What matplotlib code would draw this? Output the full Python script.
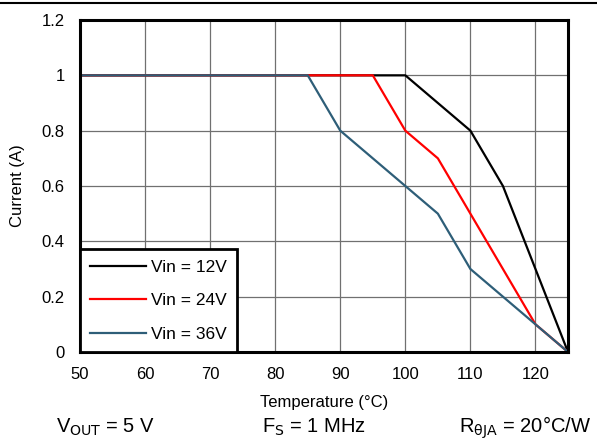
import matplotlib.pyplot as plt
import matplotlib.lines as mlines

plt.rcParams['font.family'] = ['Liberation Sans', 'DejaVu Sans']

# Derating curves
temp_12 = [50, 100, 110, 115, 125]
cur_12 = [1.0, 1.0, 0.8, 0.6, 0.0]

temp_24 = [50, 95, 100, 105, 120, 125]
cur_24 = [1.0, 1.0, 0.8, 0.7, 0.1, 0.0]

temp_36 = [50, 85, 90, 100, 105, 110, 120, 125]
cur_36 = [1.0, 1.0, 0.8, 0.6, 0.5, 0.3, 0.1, 0.0]

x_ticks = [50, 60, 70, 80, 90, 100, 110, 120]
y_ticks = [0, 0.2, 0.4, 0.6, 0.8, 1.0, 1.2]
y_labels = ['0', '0.2', '0.4', '0.6', '0.8', '1', '1.2']

W, H = 597, 444
fig = plt.figure(figsize=(W / 100, H / 100), dpi=100)
ax = fig.add_axes([80 / W, 1 - 352 / H, (568 - 80) / W, (352 - 20) / H])

ax.plot(temp_12, cur_12, color='black', lw=1.6, label='Vin = 12V')
ax.plot(temp_24, cur_24, color='#ff0000', lw=1.6, label='Vin = 24V')
ax.plot(temp_36, cur_36, color='#2e5e78', lw=1.6, label='Vin = 36V')

ax.set_xlim(50, 125)
ax.set_ylim(0, 1.2)
ax.set_xticks(x_ticks)
ax.set_yticks(y_ticks)
ax.set_yticklabels(y_labels)
ax.tick_params(length=0, labelsize=12, pad=11)
ax.grid(True, color='#707070', lw=0.9)
ax.set_axisbelow(True)
for s in ax.spines.values():
    s.set_linewidth(2.2)
    s.set_color('black')

ax.set_xlabel('Temperature (°C)', fontsize=12, labelpad=9)
ax.set_ylabel('Current (A)', fontsize=12, labelpad=12)

leg = ax.legend(loc='lower left', fontsize=12.5, frameon=True, fancybox=False,
                borderaxespad=0.0, handlelength=3.2, handletextpad=0.3,
                labelspacing=1.05, borderpad=0.6)
leg.get_frame().set_edgecolor('black')
leg.get_frame().set_linewidth(2)
leg.get_frame().set_alpha(1)

# Conditions under the chart
base_y = 1 - 433 / H
fig.text(56 / W, base_y, r'V$_{\mathrm{OUT}}$ = 5 V', fontsize=14.5, va='baseline')
fig.text(262 / W, base_y, r'F$_{\mathrm{S}}$ = 1 MHz', fontsize=14.5, va='baseline')
fig.text(591 / W, base_y, r'R$_{\mathrm{\theta JA}}$ = 20°C/W', fontsize=14.5,
         va='baseline', ha='right')

# Rule across the top
fig.add_artist(mlines.Line2D([0, 1], [1 - 3 / H, 1 - 3 / H], color='black', lw=1.5))

fig.savefig('out.png', dpi=100)
